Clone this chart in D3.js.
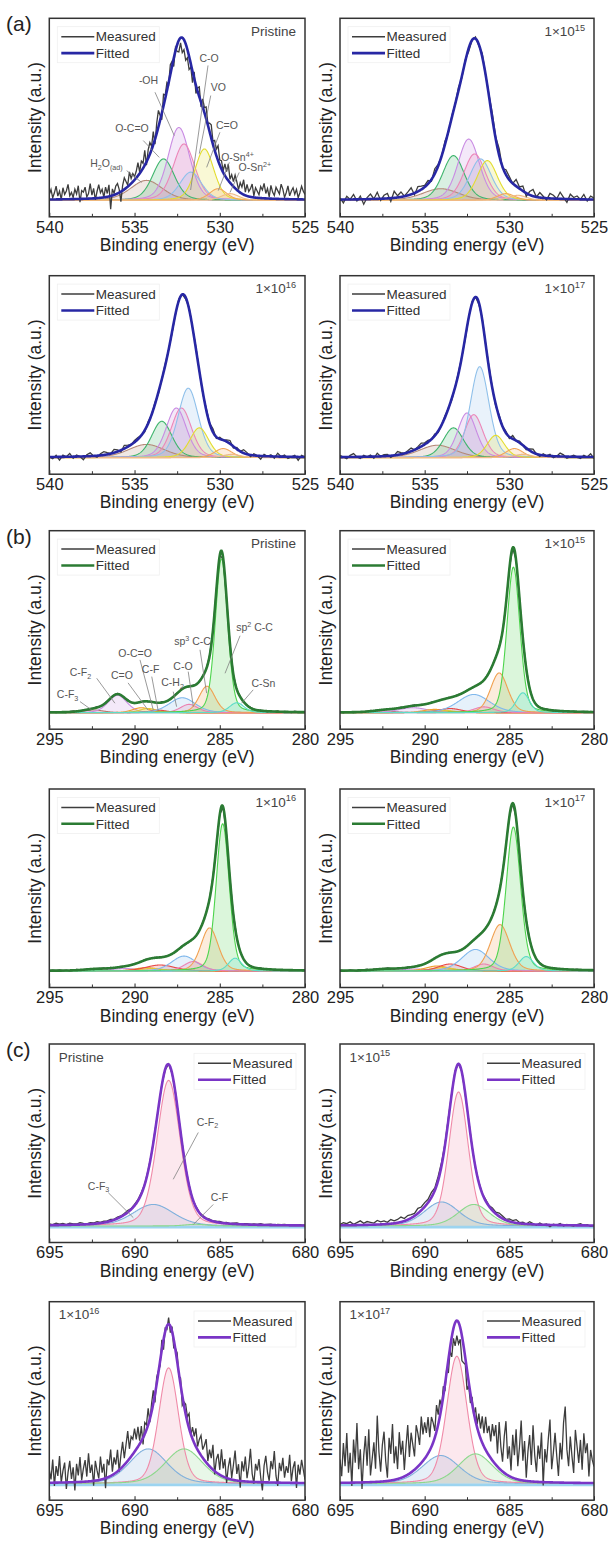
<!DOCTYPE html>
<html>
<head>
<meta charset="utf-8">
<script src="https://cdn.jsdelivr.net/npm/d3@7"></script>
<style>
  body { margin: 0; background: #fff; }
</style>
</head>
<body>
<svg id="fig" width="608" height="1542"></svg>
<script>
const svg = d3.select("#fig");

// ---- data ----
const doseLabels = ["Pristine", "1×10^{15}", "1×10^{16}", "1×10^{17}"];

const o1sTicks = [540, 535, 530, 525];
const o1sMinor = [537.5, 532.5, 527.5];
const o1sNames = ["H2O(ad)", "O-C=O", "-OH", "C-O", "VO", "C=O", "O-Sn4+", "O-Sn2+"];
const o1sCenters = [
    [534.3, 533.3, 532.4, 532.1, 531.7, 530.9, 530.1, 529.4],
    [534.05, 533.3, 532.4, 532.05, 531.7, 531.3, 530.2, 529.5],
    [534.3, 533.4, 532.55, 532.25, 531.85, 531.2, 529.8, 529.3],
    [534.25, 533.3, 532.5, 532.1, 531.75, 530.8, 529.7, 529.2]
];
const o1sHeights = [
    [12, 25, 44, 34, 17, 31, 7, 4],
    [7, 27, 37, 28, 25, 24, 4, 3],
    [8, 22, 30, 30, 42, 18, 5.5, 2],
    [7.5, 18, 27, 26, 55, 13.5, 5.5, 2]
];
const o1sWidths = [
    [2.2, 1.5, 1.5, 1.5, 1.5, 1.3, 1.2, 1.2],
    [2.5, 1.5, 1.5, 1.5, 1.5, 1.4, 1.2, 1.2],
    [2.5, 1.4, 1.4, 1.4, 1.4, 1.3, 1.2, 1.2],
    [2.5, 1.4, 1.3, 1.3, 1.3, 1.2, 1.2, 1.2]
];

const c1sTicks = [295, 290, 285, 280];
const c1sMinor = [292.5, 287.5, 282.5];
const c1sNames = ["C-F3", "C-F2", "C=O", "O-C=O", "C-F", "C-H2", "C-O", "sp3 C-C", "sp2 C-C", "C-Sn"];
const c1sCenters = [
    [292.4, 291.0, 289.6, 289.2, 288.6, 287.2, 286.8, 285.75, 284.9, 284.0],
    [292.4, 290.7, 289.4, 289.0, 288.5, 287.1, 286.5, 285.6, 284.76, 284.2],
    [292.3, 290.6, 289.3, 289.0, 288.5, 287.1, 286.55, 285.6, 284.83, 284.1],
    [292.3, 290.6, 289.25, 288.9, 288.5, 287.0, 286.5, 285.55, 284.76, 284.0]
];
const c1sHeights = [
    [1.6, 10.5, 3, 2.5, 1.5, 9, 5, 16, 93, 6],
    [1, 3, 2, 1.5, 2.5, 11, 3.5, 24, 88, 12],
    [0.8, 1.5, 2, 1.5, 3.6, 9, 5.7, 26, 89, 7.7],
    [0.8, 1.2, 3, 2, 4.2, 13, 4.2, 28, 87, 8.7]
];
const c1sWidths = [
    [1.4, 1.3, 1.2, 1.2, 1.2, 1.8, 1.2, 1.1, 0.85, 1.0],
    [1.6, 2.0, 1.6, 1.6, 1.6, 2.2, 1.4, 1.2, 0.9, 0.9],
    [1.6, 1.8, 1.6, 1.6, 2.0, 1.7, 1.3, 1.2, 0.9, 0.9],
    [1.6, 1.8, 1.6, 1.6, 1.6, 1.9, 1.3, 1.35, 1.0, 1.0]
];

const f1sTicks = [695, 690, 685, 680];
const f1sMinor = [692.5, 687.5, 682.5];
const f1sNames = ["C-F3", "C-F2", "C-F"];
const f1sCenters = [
    [688.9, 688.0, 686.4],
    [689.0, 688.0, 687.1],
    [689.2, 688.0, 687.1],
    [689.05, 688.1, 687.0]
];
const f1sHeights = [
    [13, 88, 1],
    [14.5, 81, 13],
    [21, 70, 21],
    [17, 77, 18]
];
const f1sWidths = [
    [2.8, 1.6, 1.5],
    [2.4, 1.36, 2.2],
    [2.6, 1.37, 2.6],
    [2.6, 1.42, 2.4]
];

// measured minus fitted, evenly spaced from the high-energy edge
const o1sResiduals = [
    [3, 6, 1, 4, 8, 2, 5, 0, 7, 3, 5, 9, 2, 4, 1, 6, 3, 8, -2, 5, 4, 7, 1, 3, 9, 2, 6, -1, 4, 8,
     3, 5, 0, 6, 2, 7, -8, 4, 1, 5, 6, 2, -6, 3, 7, 4, 1, 8, 3, 5, 2,
     4, 8, 1, 6, 3, 9, -2, 5, 7, 2, 8, -3, 6, 10, 3, -4, 7, 2, 5, -1,
     6, 3, -5, 2, -4, -7, -3, -9, -6, -10, -5, -8, -2, -7, 4, -5, 2, 6, -3, 5,
     3, 7, 1, 5, 8, 2, 6, 4, 9, 3, 5, 1, 7, 4, 10, 2, 6, 3, 8, 5, 1, 6, 4, 9, 2, 7, 3, 5, 8, 1,
     6, 4, 2, 7, 5, 9, 3, 6, 1, 8, 4, 2, 7, 5, 3, 9, 6, 1, 4, 8, 2, 5, 7, 3, 6, 1, 4, 8, 5, 3],
    [1, -2, 2, 0, 3, -1, 2, -3, 1, 3, 0, 4, -1, 2, 3, -2, 4, 1, 3, 0, 2, 4, -1, 3, 2, 1,
     2, -1, 3, 1, 0, 2, -1, 1, 0, 2, -1, 1, -2, 0, 1, -1, 2, 0, 1, 3,
     1, 4, -1, 3, 2, 0, 4, 1, 3, -2, 2, 4, 0, 3, 1, -1, 3, 2, 0, 4, 1, -2, 3, 1, 2, 0, 3, -1, 2, 1],
    [0, -1, 1, -2, 1, 0, 2, -1, 1, 0, -2, 1, 2, 0, -1, 1, 2, 1, 0, 2, 1, -1, 2, 1, 0, 1,
     1, 0, -1, 1, 0, 1, -1, 0, 1, 0, -1, 0, 1, 0, -1, 1, 0, 1, 0, -1,
     1, 0, 2, -1, 1, 0, 1, 2, -1, 1, 0, 2, 1, -1, 1, 0, -2, 1, 0, 1, -1, 2, 0, 1, -1, 0, 1, -2, 1, 0],
    [1, 0, -1, 1, 2, 0, -1, 1, 0, 1, -1, 2, 0, 1, 1, -1, 0, 2, 1, 0, 1, 2, 0, 1, 2, 1,
     1, 0, 1, -1, 0, 1, 0, -1, 0, 1, 0, -1, 0, 1, 0, -1, 1, 0, 1, 0,
     -1, 1, 0, 1, -1, 2, 0, 1, 0, -1, 1, 2, 0, -1, 1, 0, 1, -1, 0, 2, 1, -1, 0, 1, 0, -1, 1, 0, 2, -1]
];
const c1sResiduals = [
    [0, 0.3, -0.2, 0.4, 0, -0.3, 0.2, 0.5, 0, -0.2, 0.3, 0, -0.4, 0.2, 0.5, -0.1, 0, 0.3, -0.3, 0.2, 0.4, 0, -0.2, 0.3, 0.1, -0.4,
     0.2, 0, 0.4, -0.2, 0.3, 0, -0.3, 0.5, 0.1, -0.2, 0, 0.4, -0.1, 0.2, 0, -0.3, 0.3, 0.1, -0.5, 0.2,
     0, 0.4, -0.2, 0.3, 0, -0.4, 0.2, 0.5, -0.1, 0, 0.3, -0.3, 0.2, 0.4, 0, -0.2, 0.3, 0.1, -0.4, 0.2, 0, 0.4, -0.2, 0.3, 0, -0.3, 0.5, 0.1, -0.2, 0],
    [0.2, -0.3, 0.4, 0, -0.2, 0.3, 0.1, -0.4, 0.2, 0.5, -0.1, 0.3, 0, -0.3, 0.4, 0.2, -0.2, 0.1, 0.3, -0.4, 0, 0.2, 0.4, -0.1, 0.3, 0,
     -0.2, 0.3, 0.1, -0.3, 0.2, 0, 0.4, -0.2, 0.1, 0.3, -0.1, 0, 0.2, -0.3, 0.1, 0.2, -0.2, 0.3, 0, -0.1,
     0.2, 0.4, -0.2, 0, 0.3, -0.3, 0.5, 0.1, -0.2, 0.3, 0, -0.4, 0.2, 0.3, -0.1, 0.4, 0, -0.3, 0.2, 0.1, -0.2, 0.4, 0, 0.3, -0.3, 0.1, 0.2, -0.1, 0.3, 0],
    [-0.2, 0.3, 0, 0.4, -0.1, 0.2, -0.3, 0.1, 0.4, 0, -0.2, 0.3, 0.1, -0.4, 0.2, 0, 0.3, -0.1, 0.4, -0.2, 0.1, 0.3, 0, -0.3, 0.2, 0.1,
     0, -0.2, 0.3, 0.1, -0.1, 0.2, 0, -0.3, 0.2, 0.1, 0, -0.2, 0.1, 0.3, -0.1, 0, 0.2, -0.2, 0.1, 0.3,
     -0.1, 0.2, 0.4, -0.3, 0.1, 0, 0.3, -0.2, 0.4, 0.1, -0.3, 0.2, 0, 0.3, -0.1, 0.2, 0.4, -0.2, 0, 0.3, -0.4, 0.1, 0.2, 0, -0.2, 0.3, 0.1, -0.1, 0.2, 0],
    [0.3, 0, -0.2, 0.4, 0.1, -0.3, 0.2, 0, 0.5, -0.1, 0.2, 0.3, -0.2, 0.1, 0.4, 0, -0.3, 0.2, 0.3, -0.1, 0.4, 0.1, -0.2, 0.3, 0, 0.2,
     0.1, -0.2, 0.3, 0, 0.2, -0.1, 0.3, 0, -0.2, 0.1, 0.2, -0.1, 0, 0.3, -0.2, 0.1, 0, 0.2, -0.3, 0.1,
     0.3, -0.1, 0.2, 0.4, 0, -0.2, 0.3, 0.1, -0.3, 0.4, 0.2, 0, -0.1, 0.3, 0.2, -0.3, 0.1, 0.4, 0, -0.2, 0.3, 0.2, -0.1, 0, 0.4, -0.2, 0.1, 0.3, 0, -0.1]
];
const f1sResiduals = [
    [0.8, 0.3, 1.1, 0.5, 0.9, 0.2, 1.0, 0.6, 0.4, 1.2, 0.7, 0.3, 0.9, 0.5, 1.1, 0.4, 0.8, 0.6, 1.0, 0.3, 0.9, 0.5, 0.7, 1.1, 0.4, 0.8,
     0.6, 0.9, 0.3, 0.7, 0.2, 0.5, -0.3, 0.4, -0.5, 0.2, -0.4, 0.3, -0.2, 0.5, 0, 0.4, -0.3, 0.6, 0.2, 0.5,
     0.3, 0.7, 0.2, 0.5, 0.8, 0.3, 0.6, 0.1, 0.5, 0.7, 0.2, 0.4, 0.6, 0.1, 0.5, 0.3, 0.7, 0.2, 0.4, 0.6, 0, 0.5, 0.3, 0.6, 0.2, 0.4, 0.1, 0.5, 0.3, 0.2],
    [0.5, 1.5, 1, 2, 0.5, 1.5, 2.5, 1, 2, 1.5, 1, 2.5, 1.5, 2, 1, 2.5, 1.5, 2, 3, 1.5, 2.5, 2, 1.5, 3, 2, 2.5,
     2, 3, 1.5, 2.5, 2, 1, 1.5, 0.5, 1, 0, 0.5, -0.5, 0.5, 0, -0.5, 0.5, 0, 1, 0.5, 1.5,
     1, 2, 1.5, 0.5, 1.5, 1, 2, 0.5, 1, 0, 1.5, 0.5, -0.5, 1, 0, 0.5, -1, 0.5, 0, 1, -0.5, 0.5, 0, -0.5, 0.5, 1, 0, 0.5, -0.5, 0],
    [8, 2, 14, -2, 10, 4, 16, 0, 7, 12, -4, 6, 13, 2, 9, -5, 11, 4, 15, 1, 8, 13, 3, 17, 5, 10, -3, 12, 6, 1,
     14, 4, 9, -6, 11, 7, 16, 2, 10, 5, 13, -1, 8, 15, 4, 11, 18, 6, 12, 9, 14,
     6, 12, 2, 9, -4, 7, 3, 10, -2, 5, 8, -5, 4, 1, -3, 6, -6, 2, -2, 4,
     -4, 3, -5, 1, 5, -2, 4, -6, 2, 6, 3, 9, -1, 7, 4, 11, 2, 8, 12, 5,
     9, 14, 2, 10, 6, 15, -2, 8, 12, 3, 16, 5, 11, -3, 7, 13, 1, 9, 18, 4, 10, -4, 12, 6, 15, 2, 9, 20, 5, -1,
     11, 7, 14, 3, -5, 10, 16, 6, 1, 13, 8, 19, 4, -2, 12, 7, 15, 3, 10, 6, 17, 1, 9, 13, -3, 11, 5, 14, 8, 2],
    [14, 4, 24, 10, 30, 6, 18, -2, 26, 12, 36, 8, 20, -4, 16, 28, 10, 32, 4, 14, 24, 8, 40, 18, 6, 22, 30, 12, 2, 26,
     16, 34, 10, 20, 6, 28, 14, 22, 4, 18, 30, 10, 24, 16, 8, 26, 20, 12, 28, 16, 22,
     14, 22, 8, 18, 12, 4, 16, 6, 10, 0, 6, -4, 2, -8, -2, -12, -6, -14, -9, -13,
     -7, -15, -10, -4, -12, -2, -6, 4, -2, 8, 2, 12, 6, 16, 8, 20, 12, 18, 10, 22,
     16, 24, 8, 28, 14, 6, 22, 32, 10, 18, 4, 26, 14, 30, 8, 20, 36, 12, 24, 2, 18, 28, 10, 34, 16, 6, 22, 14, 30, -2,
     20, 12, 26, 38, 8, 18, 30, 16, 4, 24, 14, 36, 46, 20, 10, 28, 16, 6, 32, 22, 12, 26, 8, 30, 18, 24, 4, 20, 14, 10]
];

// leader-line notes on the pristine panels: label, text (eV, int), line from, line to
const o1sNotes = [
    ["H_{2}O_{(ad)}", 536.65, 22, 535.46, 17.9, 534.58, 10.8],
    ["O-C=O", 535.15, 43.3, 534.49, 36.1, 533.55, 25.9],
    ["-OH", 534.18, 72.4, 533.8, 65.3, 532.67, 39.1],
    ["C-O", 530.63, 85.8, 530.69, 81.5, 531.71, 6.2],
    ["VO", 530.08, 68.2, 530.53, 63.3, 531.2, 28.2],
    ["C=O", 529.58, 45.2, 529.99, 41.1, 530.77, 19.9],
    ["O-Sn^{4+}", 528.96, 25.8, 529.44, 22.9, 530.09, 5.8],
    ["O-Sn^{2+}", 527.94, 19.7, 528.86, 16.8, 529.4, 4.7]
];
const c1sNotes = [
    ["C-F_{3}", 293.93, 10.7, 293.2, 6.7, 292.51, 1.6],
    ["C-F_{2}", 293.17, 24.1, 292.22, 20.8, 291.15, 5.7],
    ["C=O", 290.74, 22.4, 290.38, 18, 289.21, 1.6],
    ["O-C=O", 289.97, 35.6, 289.68, 31.9, 288.9, 1.6],
    ["C-F", 289.06, 25.9, 288.99, 21.8, 288.61, 1],
    ["C-H_{2}", 287.77, 18, 287.73, 12.7, 287.53, 3.6],
    ["C-O", 287.16, 27.9, 286.85, 24.8, 286.55, 3.6],
    ["sp^{3} C-C", 286.6, 43, 286.16, 38, 285.77, 11.8],
    ["sp^{2} C-C", 282.96, 51.3, 283.81, 46.5, 284.69, 23.8],
    ["C-Sn", 282.44, 17.4, 283.04, 13.8, 283.72, 5.7]
];
const f1sNotes = [
    ["C-F_{2}", 685.72, 62.7, 686.26, 56.5, 687.73, 28.2],
    ["C-F_{3}", 692.11, 24.1, 691.54, 20.1, 690.07, 5],
    ["C-F", 685.02, 17.3, 685.38, 13, 686.55, 0.9]
];

// ---- styles / layout ----
const o1sColors = ["#b58b7a", "#3fb56d", "#c98be3", "#ec86b8", "#8fc0ea", "#e3dc2e", "#f2a65a", "#f0bb88"];
const c1sColors = ["#b87a6a", "#c890e0", "#f0a030", "#e0c83a", "#e84848", "#80b8ec", "#ec80b0", "#f0a050", "#4cd44c", "#5cdcc8"];
const f1sColors = ["#80b0dc", "#f08aa8", "#8cd88c"];

const colLeft = [49.3, 340];
const colRight = [305, 594];
const rowTop = [18.3, 275.7, 530.7, 789, 1044, 1301.7];
const panelH = 198.5;
const yDomain = [-10, 110];
const font = '"Liberation Sans", Arial, sans-serif';
const MIX = 0.25; // Lorentzian share of the pseudo-Voigt line shape

const regions = [
    { id: "a", row0: 0, ticks: o1sTicks, minor: o1sMinor, names: o1sNames, centers: o1sCenters, heights: o1sHeights,
      widths: o1sWidths, residuals: o1sResiduals, colors: o1sColors, notes: o1sNotes, fitColor: "#2727a4", legendRight: false, background: null },
    { id: "b", row0: 2, ticks: c1sTicks, minor: c1sMinor, names: c1sNames, centers: c1sCenters, heights: c1sHeights,
      widths: c1sWidths, residuals: c1sResiduals, colors: c1sColors, notes: c1sNotes, fitColor: "#2b7b33", legendRight: false, background: null },
    { id: "c", row0: 4, ticks: f1sTicks, minor: f1sMinor, names: f1sNames, centers: f1sCenters, heights: f1sHeights,
      widths: f1sWidths, residuals: f1sResiduals, colors: f1sColors, notes: f1sNotes, fitColor: "#7a35c6", legendRight: true, background: "#9cd4f0" }
];

function peak(e, c, h, w) {
    const d = (e - c) / w;
    return h * ((1 - MIX) * Math.exp(-4 * Math.LN2 * d * d) + MIX / (1 + 4 * d * d));
}

// text with _{sub} and ^{sup} parts
function richText(sel, str, size) {
    let shift = 0;
    str.split(/([_^]\{[^}]*\})/).filter(s => s).forEach(s => {
        let target = 0, fs = size, t = s;
        if (s[0] === "^") { target = -size * 0.38; fs = size * 0.68; t = s.slice(2, -1); }
        else if (s[0] === "_") { target = size * 0.22; fs = size * 0.68; t = s.slice(2, -1); }
        sel.append("tspan").attr("font-size", fs).attr("dy", target - shift).text(t);
        shift = target;
    });
}

regions.forEach(reg => reg.centers.forEach((_, k) => drawPanel(reg, k)));

function drawPanel(reg, k) {
    const row = reg.row0 + Math.floor(k / 2);
    const col = k % 2;
    const left = colLeft[col], right = colRight[col];
    const top = rowTop[row], bottom = top + panelH;
    const e0 = reg.ticks[0], e1 = reg.ticks[reg.ticks.length - 1];

    const x = d3.scaleLinear().domain([e0, e1]).range([left, right]);
    const y = d3.scaleLinear().domain(yDomain).range([bottom, top]);

    const g = svg.append("g").attr("font-family", font);
    const clipId = `clip-${reg.id}-${k}`;
    g.append("clipPath").attr("id", clipId)
        .append("rect")
        .attr("x", left).attr("y", top)
        .attr("width", right - left).attr("height", panelH);
    const plot = g.append("g").attr("clip-path", `url(#${clipId})`);

    const cs = reg.centers[k], hs = reg.heights[k], ws = reg.widths[k];
    const grid = d3.range(0, 751).map(i => e0 - i * (e0 - e1) / 750);
    const fit = e => d3.sum(cs, (c, j) => peak(e, c, hs[j], ws[j]));

    const area = d3.area().x(d => x(d[0])).y0(y(0)).y1(d => y(d[1]));
    const line = d3.line().x(d => x(d[0])).y(d => y(d[1]));

    const comps = cs.map((c, j) => grid.map(e => [e, peak(e, c, hs[j], ws[j])]));

    plot.selectAll(".comp-fill")
        .data(comps)
        .enter()
        .append("path")
        .attr("class", "comp-fill")
        .attr("d", area)
        .attr("fill", (d, j) => reg.colors[j])
        .attr("fill-opacity", 0.2);

    if (reg.background) {
        plot.append("line")
            .attr("x1", left).attr("x2", right)
            .attr("y1", y(0) + 1.2).attr("y2", y(0) + 1.2)
            .attr("stroke", reg.background)
            .attr("stroke-width", 2.6);
    }

    plot.selectAll(".comp-line")
        .data(comps)
        .enter()
        .append("path")
        .attr("class", "comp-line")
        .attr("d", line)
        .attr("fill", "none")
        .attr("stroke", (d, j) => reg.colors[j])
        .attr("stroke-width", 1.1);

    const res = reg.residuals[k];
    const measured = res.map((r, i) => {
        const e = e0 - i * (e0 - e1) / (res.length - 1);
        return [e, fit(e) + r];
    });

    plot.append("path")
        .datum(measured)
        .attr("d", line)
        .attr("fill", "none")
        .attr("stroke", "#3d3d3d")
        .attr("stroke-width", 1.3);

    plot.append("path")
        .datum(grid.map(e => [e, fit(e)]))
        .attr("d", line)
        .attr("fill", "none")
        .attr("stroke", reg.fitColor)
        .attr("stroke-width", 2.6);

    // leader-line notes, pristine only
    if (k === 0) {
        reg.notes.forEach(n => {
            g.append("line")
                .attr("x1", x(n[3])).attr("y1", y(n[4]))
                .attr("x2", x(n[5])).attr("y2", y(n[6]))
                .attr("stroke", "#808080")
                .attr("stroke-width", 0.8);
            const t = g.append("text")
                .attr("x", x(n[1])).attr("y", y(n[2]) + 3.5)
                .attr("text-anchor", "middle")
                .attr("fill", "#555");
            richText(t, n[0], 10.5);
        });
    }

    // x axis with inward ticks
    const axis = g.append("g")
        .attr("transform", `translate(0,${bottom})`)
        .call(d3.axisBottom(x).tickValues(reg.ticks).tickSize(-4).tickPadding(4).tickFormat(d3.format("d")))
        .attr("font-size", 16.5)
        .attr("font-family", font)
        .attr("color", "#222");
    axis.select(".domain").remove();

    const minorAxis = g.append("g")
        .attr("transform", `translate(0,${bottom})`)
        .call(d3.axisBottom(x).tickValues(reg.minor).tickSize(-3).tickFormat(""))
        .attr("color", "#333");
    minorAxis.select(".domain").remove();

    g.append("text")
        .attr("x", (left + right) / 2)
        .attr("y", bottom + 34)
        .attr("text-anchor", "middle")
        .attr("font-size", 17.5)
        .attr("fill", "#222")
        .text("Binding energy (eV)");

    g.append("text")
        .attr("transform", `translate(${left - 14.5},${(top + bottom) / 2}) rotate(-90)`)
        .attr("text-anchor", "middle")
        .attr("dy", "0.35em")
        .attr("font-size", 17.5)
        .attr("fill", "#222")
        .text("Intensity (a.u.)");

    // legend
    const lx = reg.legendRight ? right - 107 : left + 12;
    const ly = reg.legendRight ? top + 19.3 : top + 18.4;
    g.append("rect")
        .attr("x", lx - 4).attr("y", ly - 10)
        .attr("width", 102).attr("height", 36)
        .attr("fill", "#fff")
        .attr("fill-opacity", 0.6)
        .attr("stroke", "#efefef")
        .attr("stroke-width", 0.8);
    [["Measured", "#3d3d3d", 1.5], ["Fitted", reg.fitColor, 2.6]].forEach((d, i) => {
        const yy = ly + i * 16.4;
        g.append("line")
            .attr("x1", lx).attr("x2", lx + 33)
            .attr("y1", yy).attr("y2", yy)
            .attr("stroke", d[1])
            .attr("stroke-width", d[2]);
        g.append("text")
            .attr("x", lx + 34.5).attr("y", yy)
            .attr("dy", "0.35em")
            .attr("font-size", 13.5)
            .attr("fill", "#333")
            .text(d[0]);
    });

    // dose label
    const dl = g.append("text")
        .attr("x", reg.legendRight ? left + 9.5 : right - 9)
        .attr("y", top + 17.5)
        .attr("text-anchor", reg.legendRight ? "start" : "end")
        .attr("fill", "#444");
    richText(dl, doseLabels[k], 13.5);

    g.append("rect")
        .attr("x", left).attr("y", top)
        .attr("width", right - left).attr("height", panelH)
        .attr("fill", "none")
        .attr("stroke", "#333")
        .attr("stroke-width", 1.5);

    if (k === 0) {
        svg.append("text")
            .attr("x", 6)
            .attr("y", top + 13)
            .attr("font-family", font)
            .attr("font-size", 21)
            .attr("fill", "#222")
            .text(`(${reg.id})`);
    }
}
</script>
</body>
</html>
